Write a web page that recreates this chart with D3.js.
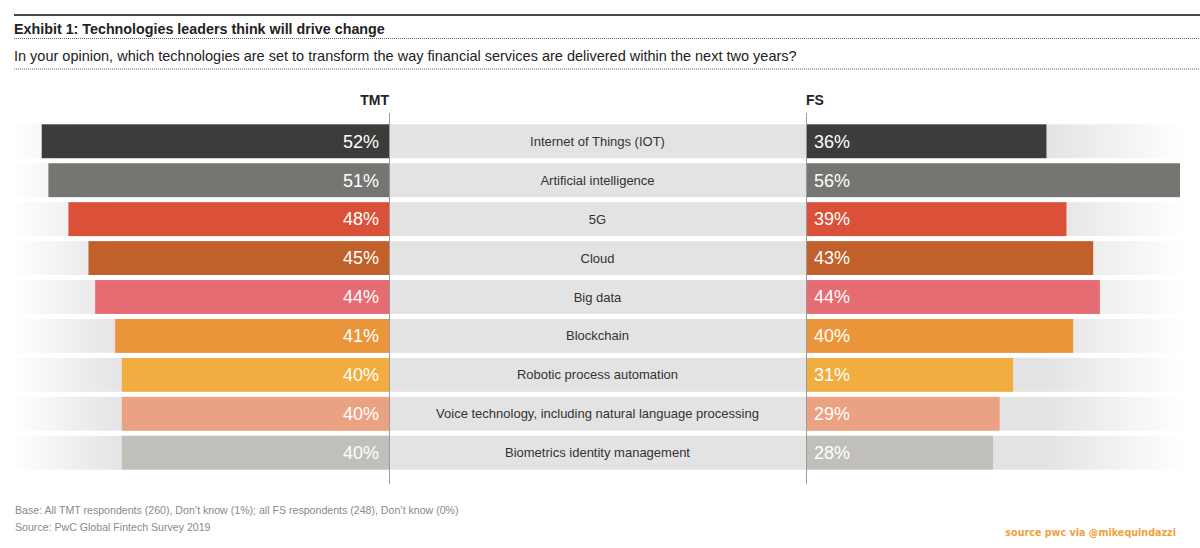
<!DOCTYPE html>
<html>
<head>
<meta charset="utf-8">
<script src="https://cdn.jsdelivr.net/npm/d3@7"></script>
<style>
  body { margin: 0; background: #fff; }
  svg { display: block; font-family: "Liberation Sans", Arial, sans-serif; }
</style>
</head>
<body>
<div id="chart"></div>
<script>
'use strict'

// data
const categories = ['Internet of Things (IOT)', 'Artificial intelligence', '5G', 'Cloud', 'Big data',
  'Blockchain', 'Robotic process automation', 'Voice technology, including natural language processing',
  'Biometrics identity management']
const tmtValues = [52, 51, 48, 45, 44, 41, 40, 40, 40]
const fsValues = [36, 56, 39, 43, 44, 40, 31, 29, 28]
const barColors = ['#3b3c3b', '#757671', '#db5039', '#c0602a', '#e46c72', '#eb953a', '#f2ad41', '#eba283', '#c1bfb9']

const width = 1200, height = 548
const tmtAxisX = 389, fsAxisX = 806

const svg = d3.select('#chart').append('svg')
  .attr('width', width)
  .attr('height', height)

// band fade gradient
const grad = svg.append('defs').append('linearGradient')
  .attr('id', 'bandFade')
  .attr('gradientUnits', 'userSpaceOnUse')
  .attr('x1', 0).attr('x2', width).attr('y1', 0).attr('y2', 0)
grad.selectAll('stop')
  .data([[10, 0], [125, 1], [1045, 1], [1185, 0]])
  .enter().append('stop')
  .attr('offset', d => d[0] / width)
  .attr('stop-color', '#e3e3e3')
  .attr('stop-opacity', d => d[1])

// header
svg.append('line').attr('x1', 14).attr('x2', width).attr('y1', 15).attr('y2', 15)
  .attr('stroke', '#4a4a4a').attr('stroke-width', 2)
svg.append('text').attr('x', 14).attr('y', 33.5)
  .attr('font-size', 14.3).attr('font-weight', 'bold').attr('fill', '#222')
  .text('Exhibit 1: Technologies leaders think will drive change')
svg.append('line').attr('x1', 14).attr('x2', width).attr('y1', 38.5).attr('y2', 38.5)
  .attr('stroke', '#666').attr('stroke-width', 1).attr('stroke-dasharray', '1,1')
svg.append('text').attr('x', 14).attr('y', 61)
  .attr('font-size', 14.5).attr('fill', '#222')
  .text('In your opinion, which technologies are set to transform the way financial services are delivered within the next two years?')
svg.append('line').attr('x1', 14).attr('x2', width).attr('y1', 69).attr('y2', 69)
  .attr('stroke', '#666').attr('stroke-width', 1).attr('stroke-dasharray', '1,1')

const x = d3.scaleLinear().domain([0, 56]).range([0, 374])
const y = d3.scaleBand().domain(categories).range([122, 472]).paddingInner(0.13).paddingOuter(0.06)

const rows = svg.selectAll('.row')
  .data(categories.map((c, i) => ({ name: c, tmt: tmtValues[i], fs: fsValues[i], color: barColors[i] })))
  .enter().append('g')
  .attr('class', 'row')
  .attr('transform', d => 'translate(0,' + y(d.name) + ')')

rows.append('rect')
  .attr('x', 0).attr('width', width).attr('height', y.bandwidth())
  .attr('fill', 'url(#bandFade)')

rows.append('rect')
  .attr('x', d => tmtAxisX - x(d.tmt))
  .attr('width', d => x(d.tmt))
  .attr('height', y.bandwidth())
  .attr('fill', d => d.color)

rows.append('rect')
  .attr('x', fsAxisX)
  .attr('width', d => x(d.fs))
  .attr('height', y.bandwidth())
  .attr('fill', d => d.color)

rows.append('text')
  .attr('x', tmtAxisX - 10).attr('y', y.bandwidth() / 2).attr('dy', '.35em')
  .attr('text-anchor', 'end').attr('font-size', 18).attr('fill', '#fff')
  .text(d => d.tmt + '%')

rows.append('text')
  .attr('x', fsAxisX + 8).attr('y', y.bandwidth() / 2).attr('dy', '.35em')
  .attr('font-size', 18).attr('fill', '#fff')
  .text(d => d.fs + '%')

rows.append('text')
  .attr('x', (tmtAxisX + fsAxisX) / 2).attr('y', y.bandwidth() / 2).attr('dy', '.35em')
  .attr('text-anchor', 'middle').attr('font-size', 13).attr('fill', '#333')
  .text(d => d.name)

// axis lines
;[tmtAxisX, fsAxisX].forEach(ax => {
  svg.append('line').attr('x1', ax + 0.5).attr('x2', ax + 0.5).attr('y1', 113).attr('y2', 484)
    .attr('stroke', '#9a9a9a').attr('stroke-width', 1)
})

svg.append('text').attr('x', tmtAxisX).attr('y', 105)
  .attr('text-anchor', 'end').attr('font-size', 14).attr('font-weight', 'bold').attr('fill', '#222')
  .text('TMT')
svg.append('text').attr('x', fsAxisX).attr('y', 105)
  .attr('font-size', 14).attr('font-weight', 'bold').attr('fill', '#222')
  .text('FS')

// footer
svg.append('text').attr('x', 15).attr('y', 514)
  .attr('font-size', 10.6).attr('fill', '#8a8a8a')
  .text('Base: All TMT respondents (260), Don\u2019t know (1%); all FS respondents (248), Don\u2019t know (0%)')
svg.append('text').attr('x', 15).attr('y', 531)
  .attr('font-size', 10.6).attr('fill', '#8a8a8a')
  .text('Source: PwC Global Fintech Survey 2019')
svg.append('text').attr('x', 1176).attr('y', 536)
  .attr('text-anchor', 'end').attr('font-size', 9.6).attr('font-weight', 'bold')
  .attr('font-family', '"DejaVu Sans", sans-serif').attr('fill', '#f3a03a')
  .text('source pwc via @mikequindazzi')
</script>
</body>
</html>
